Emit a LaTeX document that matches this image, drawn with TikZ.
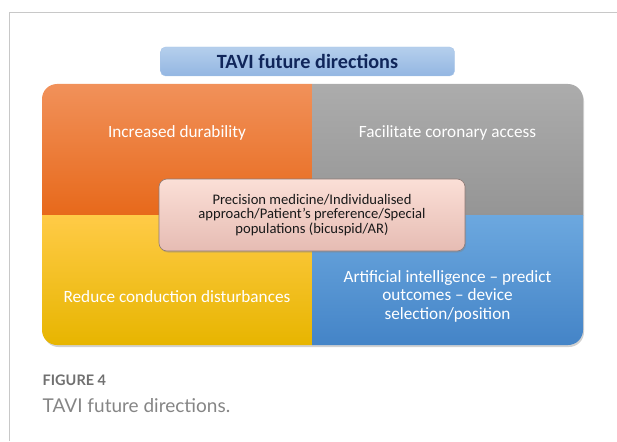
\documentclass[tikz,border=0pt]{standalone}
\usepackage{fontspec}
\setmainfont{Carlito}
\newfontfamily\capfont{Lato}
\usetikzlibrary{positioning,shadows}
\definecolor{frameGray}{HTML}{C8C8C8}
\definecolor{orTop}{HTML}{F1915A}
\definecolor{orBot}{HTML}{E7691B}
\definecolor{grTop}{HTML}{ACACAC}
\definecolor{grBot}{HTML}{959595}
\definecolor{yeTop}{HTML}{FFCB47}
\definecolor{yeBot}{HTML}{E7B500}
\definecolor{blTop}{HTML}{6CA8DF}
\definecolor{blBot}{HTML}{4484C7}
\definecolor{ttTop}{HTML}{B5CFEC}
\definecolor{ttBot}{HTML}{93B6E2}
\definecolor{ttText}{HTML}{10265A}
\definecolor{ctTop}{HTML}{FBDFD7}
\definecolor{ctBot}{HTML}{E6BCB3}
\definecolor{ctLine}{HTML}{8E7A76}
\definecolor{capGray}{HTML}{707070}
\tikzset{
  quad text/.style={
    text=white,
    align=center,
    font=\fontsize{17.2}{18.5}\selectfont
  },
  title box/.style={
    draw=ttBot!80!white,
    rounded corners=5pt,
    top color=ttTop,
    bottom color=ttBot,
    minimum width=294pt,
    minimum height=29pt,
    inner sep=0pt,
    text=ttText,
    font=\fontsize{20.2}{22}\selectfont\bfseries
  },
  centre box/.style={
    draw=ctLine,
    line width=0.6pt,
    rounded corners=8pt,
    top color=ctTop,
    bottom color=ctBot,
    minimum width=306pt,
    minimum height=72pt,
    inner sep=0pt,
    align=center,
    text=black!90,
    drop shadow={shadow xshift=1pt,shadow yshift=-1.5pt,opacity=0.35},
    font=\fontsize{14.6}{14.8}\selectfont
  }
}
\begin{document}
\begin{tikzpicture}[x=1pt,y=-1pt]
\useasboundingbox (0,0) rectangle (617,441);
% page frame
\draw[frameGray,line width=1.4pt] (9.5,441) -- (9.5,12.5) -- (617,12.5);
% four quadrants
\fill[black,opacity=0.18,rounded corners=15pt] (43.5,86) rectangle (584,347);
\begin{scope}
\clip[rounded corners=15pt] (42,84) rectangle (583,345);
\shade[top color=orTop,bottom color=orBot] (42,84) rectangle (312,215);
\shade[top color=grTop,bottom color=grBot] (312,84) rectangle (583,215);
\shade[top color=yeTop,bottom color=yeBot] (42,215) rectangle (312,345);
\shade[top color=blTop,bottom color=blBot] (312,215) rectangle (583,345);
\end{scope}
\node (dur) [quad text] at (177,133) {Increased durability};
\node (cor) [quad text] at (447.5,133) {Facilitate coronary access};
\node (cond) [quad text] at (177,297) {Reduce conduction disturbances};
\node (ai) [quad text] at (447.5,296) {Artificial intelligence -- predict\\outcomes -- device\\selection/position};
% title and centre
\node (title) [title box] at (307.5,61.5) {TAVI future directions};
\node (prec) [centre box] at (312,215) {Precision medicine/Individualised\\approach/Patient’s preference/Special\\populations (bicuspid/AR)};
% caption
\node (fig) [anchor=base west,inner sep=0pt,text=capGray,font=\capfont\fontsize{14.5}{16}\selectfont\bfseries] at (42.5,385) {FIGURE 4};
\node (cap) [anchor=base west,inner sep=0pt,text=capGray!85,font=\capfont\fontsize{19}{20}\selectfont] at (42.5,412) {TAVI future directions.};
\end{tikzpicture}
\end{document}
